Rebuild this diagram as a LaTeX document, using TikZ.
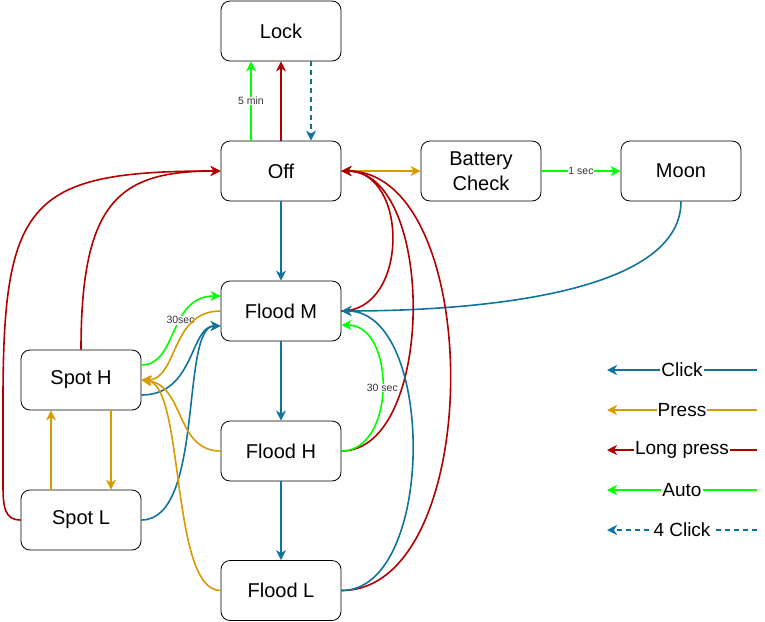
\documentclass[tikz,border=0pt]{standalone}
\usepackage{fontspec}
\setmainfont{Liberation Sans}
\usetikzlibrary{arrows.meta,calc}
\definecolor{cblue}{HTML}{10739E}
\definecolor{corange}{HTML}{D79B00}
\definecolor{cred}{HTML}{B20000}
\definecolor{cgreen}{HTML}{00FF00}
\begin{document}
\begin{tikzpicture}[x=1pt,y=-1pt,
  state/.style={draw=black, fill=white, line width=0.8pt, rounded corners=9pt, minimum width=120pt, minimum height=60pt, inner sep=0pt, align=center, font=\fontsize{20}{25}\selectfont},
  edge/.style={line width=1.6pt, -{Stealth[length=10pt,width=10pt,inset=3pt]}},
  click/.style={edge, draw=cblue},
  press/.style={edge, draw=corange},
  lpress/.style={edge, draw=cred},
  autoedge/.style={edge, draw=cgreen},
  fourclick/.style={edge, draw=cblue, dash pattern=on 5pt off 4pt},
  tlabel/.style={fill=white, inner sep=0.5pt, text=black!80, font=\fontsize{10.5}{12}\selectfont},
  leglabel/.style={fill=white, inner sep=1pt, font=\fontsize{19}{21}\selectfont}
]
\useasboundingbox (0,0) rectangle (765,621);

\node[state] (lock) at (281,31) {Lock};
\node[state] (off) at (281,171) {Off};
\node[state] (bc) at (481,171) {Battery\\Check};
\node[state] (moon) at (681,171) {Moon};
\node[state] (fm) at (281,311) {Flood M};
\node[state] (sh) at (81,380) {Spot H};
\node[state] (fh) at (281,451) {Flood H};
\node[state] (sl) at (81,520) {Spot L};
\node[state] (fl) at (281,590.5) {Flood L};

% top
\draw[autoedge] ([xshift=-30pt]off.north) -- node[tlabel]{5 min} ([xshift=-30pt]lock.south);
\draw[lpress] (off.north) -- (lock.south);
\draw[fourclick] ([xshift=30pt]lock.south) -- ([xshift=30pt]off.north);
\draw[press] (off.east) -- (bc.west);
\draw[autoedge] (bc.east) -- node[tlabel]{1 sec} (moon.west);
\draw[click] (moon.south) .. controls (681,300) and (450,311) .. (fm.east);
\draw[click] (off.south) -- (fm.north);
\draw[click] (fm.south) -- (fh.north);
\draw[click] (fh.south) -- (fl.north);

% right side
\draw[lpress] (fm.east) .. controls (409,311) and (409,171) .. (off.east);
\draw[lpress] (fh.east) .. controls (436,451) and (436,171) .. (off.east);
\draw[lpress] (fl.east) .. controls (486,591) and (486,171) .. (off.east);
\draw[autoedge] (fh.east) .. controls (396,451) and (396,325) .. node[tlabel]{30 sec} ([yshift=-14pt]fm.east);
\draw[click] (fl.east) .. controls (436,591) and (436,311) .. (fm.east);

% left side
\draw[lpress] (sh.north) .. controls (81,200) and (120,171) .. (off.west);
\draw[lpress] (sl.west) .. controls (5,520) and (3,508) .. (3,485) -- (3,400) .. controls (3,200) and (30,171) .. (off.west);
\draw[autoedge] ([yshift=15pt]sh.east) .. controls (178,365) and (168,296) .. node[tlabel,pos=0.6]{30sec} ([yshift=15pt]fm.west);
\draw[press] (fm.west) .. controls (170,311) and (178,380) .. (sh.east);
\draw[click] ([yshift=-15pt]sh.east) .. controls (195,395) and (190,326) .. ([yshift=-15pt]fm.west);
\draw[click] (sl.east) .. controls (205,520) and (180,326) .. ([yshift=-15pt]fm.west);
\draw[press] (fh.west) .. controls (175,451) and (185,385) .. (sh.east);
\draw[press] (fl.west) .. controls (170,591) and (185,385) .. (sh.east);
\draw[press] ([xshift=30pt]sh.south) -- ([xshift=30pt]sl.north);
\draw[press] ([xshift=-30pt]sl.north) -- ([xshift=-30pt]sh.south);

% legend
\coordinate (l1a) at (757,370); \coordinate (l1b) at (607,370);
\coordinate (l2a) at (757,410); \coordinate (l2b) at (607,410);
\coordinate (l3a) at (757,450); \coordinate (l3b) at (607,450);
\coordinate (l4a) at (757,490); \coordinate (l4b) at (607,490);
\coordinate (l5a) at (757,530); \coordinate (l5b) at (607,530);
\draw[click] (l1a) -- node[leglabel]{Click} (l1b);
\draw[press] (l2a) -- node[leglabel]{Press} (l2b);
\draw[lpress] (l3a) -- node[leglabel]{Long press} (l3b);
\draw[autoedge] (l4a) -- node[leglabel]{Auto} (l4b);
\draw[fourclick] (l5a) -- node[leglabel]{4 Click} (l5b);
\end{tikzpicture}
\end{document}
